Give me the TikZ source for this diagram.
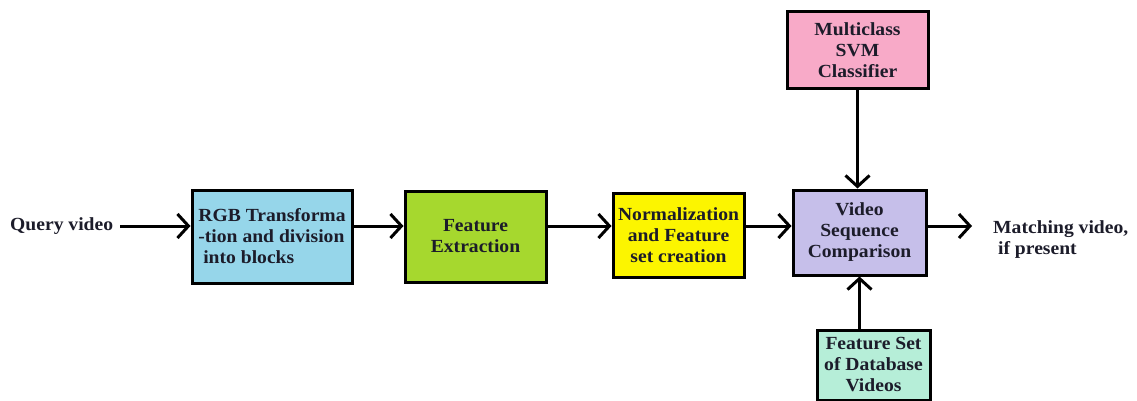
\documentclass[tikz,border=0pt]{standalone}
\usepackage{fontspec}
\setmainfont{Liberation Serif}[FakeStretch=1.06]
\usetikzlibrary{arrows.meta,calc}
\definecolor{cblue}{HTML}{96D6EA}
\definecolor{cgreen}{HTML}{A6D82E}
\definecolor{cyellow}{HTML}{FCF500}
\definecolor{clav}{HTML}{C6BFEA}
\definecolor{cpink}{HTML}{F8AAC8}
\definecolor{cmint}{HTML}{B6EED8}
\definecolor{ctext}{HTML}{1C1C2A}
\tikzset{
  box/.style={draw=black, line width=3pt, inner sep=2pt, font=\bfseries\fontsize{18.5}{21}\selectfont, text=ctext, align=center},
  lbl/.style={font=\bfseries\fontsize{18.5}{21}\selectfont, text=ctext, inner sep=0pt},
  arr/.style={line width=3pt, -{Straight Barb[length=11pt,width=24pt,line width=3pt]}}
}
\begin{document}
\begin{tikzpicture}[x=1pt,y=-1pt]
\useasboundingbox (0,0) rectangle (1137,401);
\node[lbl, anchor=west] (qv) at (10,226) {Query video};
\node[box, fill=cblue, minimum width=160pt, minimum height=93pt, align=left] (rgb) at (272,236.5) {RGB Transforma\\-tion and division\\\ into blocks};
\node[box, fill=cgreen, minimum width=141pt, minimum height=91pt] (fe) at (475.5,236.5) {Feature\\Extraction};
\node[box, fill=cyellow, minimum width=131pt, minimum height=84pt, inner sep=0pt] (nf) at (678.5,235) {Normalization\\and Feature\\set creation};
\node[box, fill=clav, minimum width=133pt, minimum height=85pt] (vsc) at (859.5,232.5) {Video\\Sequence\\Comparison};
\node[box, fill=cpink, minimum width=141pt, minimum height=77pt] (svm) at (857.5,50.5) {Multiclass\\SVM\\Classifier};
\node[box, fill=cmint, minimum width=113pt, minimum height=70pt, inner sep=0pt] (fs) at (873.5,365) {Feature Set\\of Database\\Videos};
\node[lbl, align=left, anchor=west] (mv) at (993,240) {Matching video,\\\ if present};
\coordinate (out) at (972,226);
\draw[arr, shorten <=7pt] (qv.east) -- (qv.east -| rgb.west);
\draw[arr] (rgb.east |- qv.east) -- (fe.west |- qv.east);
\draw[arr] (fe.east |- qv.east) -- (nf.west |- qv.east);
\draw[arr] (nf.east |- qv.east) -- (vsc.west |- qv.east);
\draw[arr] (vsc.east |- qv.east) -- (out);
\draw[arr] (svm.south) -- (svm.south |- vsc.north);
\draw[arr] (fs.north -| vsc.south) -- (vsc.south);
\end{tikzpicture}
\end{document}
